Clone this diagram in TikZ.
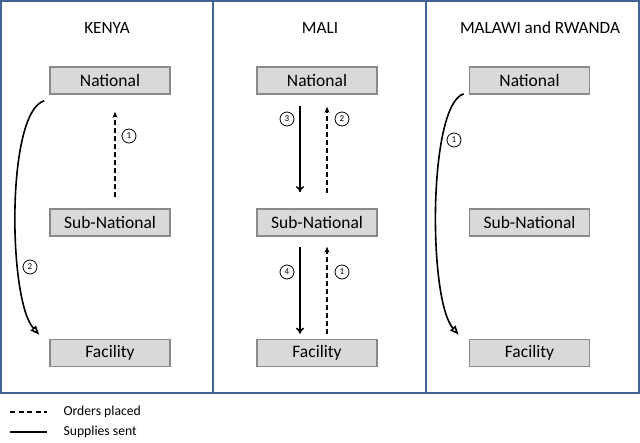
\documentclass[tikz,border=0pt]{standalone}
\usepackage{fontspec}
\setmainfont{Carlito}
\usetikzlibrary{arrows.meta,calc}
\begin{document}
\begin{tikzpicture}[x=1pt,y=-1pt,
  panel/.style={draw=panelblue,line width=1.8pt},
  level/.style={draw=boxgray,fill=boxfill,line width=1.6pt,minimum width=120pt,minimum height=27pt,inner sep=0pt,font=\fontsize{17.5}{19}\selectfont},
  title/.style={font=\fontsize{17.2}{19}\selectfont},
  order/.style={line width=1.6pt,dash pattern=on 5pt off 3pt,-{Stealth[length=6pt,width=5pt]}},
  supply/.style={line width=1.6pt,-{To[length=6pt,width=8pt]}},
  direct/.style={line width=1.6pt,-{Triangle[open,length=9pt,width=7pt]}},
  step label/.style={draw,circle,line width=0.8pt,inner sep=0pt,minimum size=14pt,font=\fontsize{9}{10}\selectfont},
  legend/.style={font=\fontsize{13.7}{16}\selectfont,anchor=west}]
\definecolor{panelblue}{HTML}{3F6394}
\definecolor{boxgray}{HTML}{8A8A8A}
\definecolor{boxfill}{HTML}{D9D9D9}
\useasboundingbox (0,0) rectangle (640,442);
% panels
\draw[panel] (1,1) rectangle (639,393);
\draw[panel] (213,1) -- (213,393);
\draw[panel] (426,1) -- (426,393);
% titles
\node[title] (tk) at (107,28) {KENYA};
\node[title] (tm) at (320,28) {MALI};
\node[title] (tr) at (540,28) {MALAWI and RWANDA};
% Kenya
\node[level] (kn) at (110,80.5) {National};
\node[level] (ks) at (110,222.5) {Sub-National};
\node[level] (kf) at (110,353) {Facility};
\draw[order] ($(ks.north)+(5,-11)$) coordinate (k1a) -- ($(kn.south)+(5,17)$) coordinate (k1b);
\node[step label] (kl1) at (129,136) {1};
\coordinate (kc0) at ($(kn.south west)+(-5,6)$);
\coordinate (kc1) at ($(kf.north west)+(-10,-4)$);
\draw[direct] (kc0) .. controls (6,112) and (8,300) .. (kc1);
\node[step label] (kl2) at (30,267) {2};
% Mali
\node[level] (mn) at (317,80.5) {National};
\node[level] (ms) at (317,222.5) {Sub-National};
\node[level] (mf) at (317,353) {Facility};
\draw[supply] ($(mn.south)+(-17,11)$) -- ($(ms.north)+(-17,-16)$);
\draw[order] ($(ms.north)+(10,-15)$) -- ($(mn.south)+(10,12)$);
\draw[supply] ($(ms.south)+(-17,10)$) -- ($(mf.north)+(-17,-5)$);
\draw[order] ($(mf.north)+(10,-5)$) -- ($(ms.south)+(10,10)$);
\node[step label] (ml3) at (287,119) {3};
\node[step label] (ml2) at (342,119) {2};
\node[step label] (ml4) at (287,272) {4};
\node[step label] (ml1) at (342,272) {1};
% Malawi and Rwanda
\node[level] (rn) at (529.5,80.5) {National};
\node[level] (rs) at (529.5,222.5) {Sub-National};
\node[level] (rf) at (529.5,353) {Facility};
\coordinate (rc0) at ($(rn.south west)+(-5,-1)$);
\coordinate (rc1) at ($(rf.north west)+(-10,-4)$);
\draw[direct] (rc0) .. controls (428,105) and (428,300) .. (rc1);
\node[step label] (rl1) at (454,140) {1};
% legend
\coordinate (lo0) at (10,412);
\coordinate (lo1) at (47,412);
\coordinate (ls0) at (10,432);
\coordinate (ls1) at (47,432);
\draw[line width=1.5pt,dash pattern=on 5pt off 3.5pt] (lo0) -- (lo1);
\draw[line width=1.5pt] (ls0) -- (ls1);
\node[legend] (lgo) at (60,412) {Orders placed};
\node[legend] (lgs) at (60,432) {Supplies sent};
\end{tikzpicture}
\end{document}
